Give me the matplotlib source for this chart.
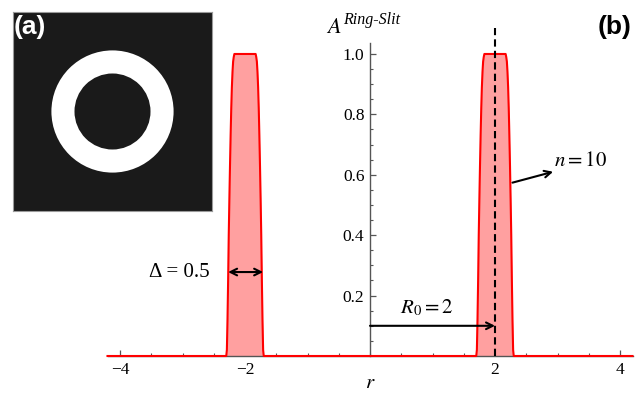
import matplotlib
matplotlib.use("Agg")
import matplotlib.pyplot as plt
from matplotlib.patches import Circle
import numpy as np

plt.rcParams['mathtext.fontset'] = 'stix'
plt.rcParams['font.family'] = ['Liberation Serif', 'DejaVu Serif']

# ---- data ----
R0 = 2.0
delta = 0.5
n_order = 10
# right ring-slit peak profile (r, amplitude)
peak_r = [1.70, 1.71, 1.72, 1.73, 1.74, 1.75, 1.76, 1.77, 1.78, 1.79, 1.80, 1.81, 1.82, 1.83,
          2.17, 2.18, 2.19, 2.20, 2.21, 2.22, 2.23, 2.24, 2.25, 2.26, 2.27, 2.28, 2.29, 2.30]
peak_A = [0.0, 0.02, 0.12, 0.25, 0.40, 0.52, 0.63, 0.73, 0.82, 0.89, 0.94, 0.975, 0.99, 1.0,
          1.0, 0.99, 0.975, 0.94, 0.89, 0.82, 0.73, 0.63, 0.52, 0.40, 0.25, 0.12, 0.02, 0.0]
r_range = [-4.2, 4.2]
x_ticks = [-4, -2, 2, 4]
x_ticklabels = ['\u22124', '\u22122', '2', '4']
y_ticks = [0.2, 0.4, 0.6, 0.8, 1.0]
y_ticklabels = ['0.2', '0.4', '0.6', '0.8', '1.0']
ring_outer = 0.307   # inset ring radii (fraction of inset)
ring_inner = 0.191

# full curve: left peak (mirror, the function is even in r) + right peak
left_r = [-v for v in peak_r[::-1]]
left_A = peak_A[::-1]
curve_r = np.array([r_range[0]] + left_r + peak_r + [r_range[1]])
curve_A = np.array([0.0] + left_A + peak_A + [0.0])

W, H = 644, 394
fig = plt.figure(figsize=(W / 100, H / 100), dpi=100)

# main axes
x0, x1 = 107.5, 632.5
ybot, ytop = 356, 26.8
ax = fig.add_axes([x0 / W, (H - ybot) / H, (x1 - x0) / W, (ybot - ytop) / H])
ax.set_xlim(r_range[0], r_range[1])
ax.set_ylim(0, 1.09)
ax.patch.set_alpha(0)

for s in ['top', 'right']:
    ax.spines[s].set_visible(False)
ax.spines['left'].set_position(('data', 0))
ax.spines['left'].set_bounds(0, 1.036)
axis_col = '#555555'
ax.spines['left'].set_color(axis_col)
ax.spines['bottom'].set_color(axis_col)
ax.spines['left'].set_linewidth(1.0)
ax.spines['bottom'].set_linewidth(1.0)

ax.set_xticks(x_ticks)
ax.set_xticklabels(x_ticklabels)
ax.set_xticks(np.arange(-4, 4.01, 0.5), minor=True)
ax.set_yticks(y_ticks)
ax.set_yticklabels(y_ticklabels)
ax.set_yticks(np.arange(0.05, 1.001, 0.05), minor=True)
ax.tick_params(axis='both', which='major', direction='in', length=4, width=0.9,
               color=axis_col, labelsize=12.5, pad=4)
ax.tick_params(axis='both', which='minor', direction='in', length=2.5, width=0.8,
               color=axis_col)

ax.fill_between(curve_r, 0, curve_A, color='#ffa0a0', lw=0, zorder=2)
ax.plot(curve_r, curve_A, color='#ff0000', lw=1.5, zorder=3, clip_on=False,
        solid_joinstyle='round')

# dashed line at R0
ax.plot([R0, R0], [0, 1.086], color='black', lw=1.5, ls=(0, (3.5, 2)), zorder=4, clip_on=False)

# annotations
ax.annotate('', xy=(R0, 0.10), xytext=(0, 0.10),
            arrowprops=dict(arrowstyle='->', color='black', lw=1.5,
                            mutation_scale=12, shrinkA=0, shrinkB=0), zorder=5)
ax.text(0.91, 0.16, r'$R_0 = 2$', fontsize=15, ha='center', va='center')

ax.annotate('', xy=(-1.71, 0.278), xytext=(-2.27, 0.278),
            arrowprops=dict(arrowstyle='<->', color='black', lw=1.5,
                            mutation_scale=12, shrinkA=0, shrinkB=0), zorder=5)
ax.text(-2.56, 0.278, '\u0394 = 0.5', fontsize=15, ha='left' if False else 'right', va='center')

ax.annotate('', xy=(2.93, 0.61), xytext=(2.28, 0.574),
            arrowprops=dict(arrowstyle='->', color='black', lw=1.5,
                            mutation_scale=12, shrinkA=0, shrinkB=0), zorder=5)
ax.text(2.95, 0.645, r'$n = 10$', fontsize=15, ha='left', va='center')

# axis labels
ax.text(-0.70, 1.07, r'$A$', fontsize=16, ha='left', va='baseline')
ax.text(-0.43, 1.098, 'Ring-Slit', fontsize=11.5, style='italic', ha='left', va='baseline')
fig.text(370 / W, 1 - 383 / H, r'$r$', fontsize=15, ha='center', va='center')

# (b) label
fig.text(615 / W, 1 - 27 / H, '(b)', fontsize=19, fontweight='bold',
         family='Liberation Sans', ha='center', va='center')

# inset (a)
ix0, iy0, isz = 13, 12, 199
iax = fig.add_axes([ix0 / W, (H - iy0 - isz) / H, isz / W, isz / H])
iax.set_xlim(0, 1)
iax.set_ylim(0, 1)
iax.set_facecolor('#1a1a1a')
iax.set_xticks([])
iax.set_yticks([])
for s in iax.spines.values():
    s.set_color('#9a9a9a')
    s.set_linewidth(0.8)
iax.add_patch(Circle((0.5, 0.5), ring_outer, color='white', lw=0))
iax.add_patch(Circle((0.5, 0.5), ring_inner, color='#1a1a1a', lw=0))
iax.text(0.005, 0.985, '(a)', fontsize=19, fontweight='bold', family='Liberation Sans',
         color='white', ha='left', va='top', transform=iax.transAxes)

fig.savefig('out.png', dpi=100)
